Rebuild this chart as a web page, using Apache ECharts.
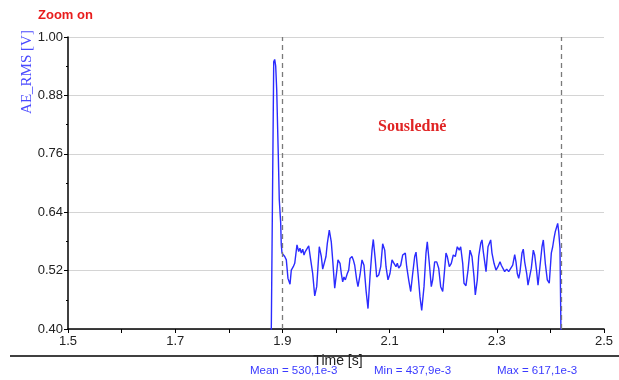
<!DOCTYPE html>
<html>
<head>
<meta charset="utf-8">
<script src="https://cdn.jsdelivr.net/npm/echarts@6/dist/echarts.min.js"></script>
<style>
  html, body { margin: 0; padding: 0; background: #fff; }
  #chart { width: 619px; height: 380px; }
</style>
</head>
<body>
<div id="chart"></div>
<script>
// AE_RMS trace over time [s]
const timeS = [
  1.8785, 1.8838, 1.8856, 1.8875, 1.8894, 1.8924, 1.8942, 1.8968, 1.8979,
  1.8993, 1.9043, 1.9073, 1.9104, 1.9142, 1.9166, 1.9203, 1.9230, 1.9272, 1.9304,
  1.9328, 1.9353, 1.9379, 1.9403, 1.9427, 1.9459, 1.9491, 1.9528, 1.9565, 1.9603,
  1.9640, 1.9688, 1.9726, 1.9752, 1.9776, 1.9813, 1.9838, 1.9875, 1.9912, 1.9938,
  1.9976, 2.0013, 2.0037, 2.0075, 2.0099, 2.0125, 2.0149, 2.0174, 2.0211, 2.0237,
  2.0261, 2.0299, 2.0323, 2.0349, 2.0386, 2.0410, 2.0448, 2.0485, 2.0522, 2.0560,
  2.0597, 2.0634, 2.0672, 2.0696, 2.0733, 2.0759, 2.0797, 2.0834, 2.0871, 2.0909,
  2.0933, 2.0970, 2.1007, 2.1045, 2.1082, 2.1119, 2.1144, 2.1170, 2.1207, 2.1244,
  2.1269, 2.1293, 2.1319, 2.1356, 2.1394, 2.1431, 2.1468, 2.1493, 2.1530, 2.1567,
  2.1599, 2.1642, 2.1679, 2.1703, 2.1741, 2.1778, 2.1804, 2.1841, 2.1879, 2.1916,
  2.1953, 2.1991, 2.2015, 2.2052, 2.2076, 2.2114, 2.2151, 2.2188, 2.2226, 2.2263,
  2.2300, 2.2326, 2.2364, 2.2388, 2.2425, 2.2463, 2.2500, 2.2537, 2.2575, 2.2599,
  2.2636, 2.2662, 2.2700, 2.2724, 2.2748, 2.2774, 2.2799, 2.2836, 2.2860, 2.2886,
  2.2910, 2.2948, 2.2985, 2.3022, 2.3060, 2.3084, 2.3110, 2.3147, 2.3185, 2.3222,
  2.3259, 2.3297, 2.3334, 2.3358, 2.3382, 2.3409, 2.3433, 2.3470, 2.3494, 2.3520,
  2.3558, 2.3582, 2.3619, 2.3644, 2.3681, 2.3707, 2.3744, 2.3769, 2.3806, 2.3843,
  2.3868, 2.3905, 2.3942, 2.3979, 2.4017, 2.4043, 2.4067, 2.4091, 2.4118, 2.4136,
  2.4155, 2.4179, 2.4207
];
const aeRms = [
  0.300, 0.949, 0.954, 0.940, 0.891, 0.754, 0.665, 0.618, 0.573,
  0.556, 0.549, 0.542, 0.504, 0.492, 0.521, 0.528, 0.535, 0.573, 0.559,
  0.566, 0.556, 0.564, 0.552, 0.559, 0.556, 0.571, 0.542, 0.514, 0.468,
  0.487, 0.569, 0.549, 0.523, 0.521, 0.549, 0.576, 0.603, 0.579, 0.542,
  0.484, 0.518, 0.542, 0.535, 0.514, 0.497, 0.507, 0.501, 0.514, 0.521,
  0.545, 0.549, 0.542, 0.531, 0.501, 0.487, 0.511, 0.542, 0.531, 0.480,
  0.442, 0.507, 0.562, 0.584, 0.542, 0.507, 0.511, 0.528, 0.575, 0.562,
  0.528, 0.501, 0.514, 0.542, 0.535, 0.528, 0.535, 0.525, 0.531, 0.552,
  0.549, 0.556, 0.528, 0.501, 0.477, 0.514, 0.549, 0.558, 0.514, 0.466,
  0.438, 0.487, 0.556, 0.579, 0.535, 0.487, 0.501, 0.538, 0.538, 0.525,
  0.487, 0.477, 0.507, 0.556, 0.549, 0.528, 0.535, 0.552, 0.549, 0.569,
  0.562, 0.569, 0.535, 0.494, 0.489, 0.521, 0.562, 0.549, 0.507, 0.470,
  0.501, 0.549, 0.576, 0.583, 0.559, 0.556, 0.518, 0.569, 0.573, 0.583,
  0.556, 0.535, 0.521, 0.528, 0.538, 0.531, 0.528, 0.518, 0.523, 0.518,
  0.521, 0.531, 0.553, 0.538, 0.514, 0.504, 0.518, 0.556, 0.564, 0.538,
  0.514, 0.490, 0.494, 0.525, 0.562, 0.552, 0.518, 0.490, 0.494, 0.569,
  0.583, 0.535, 0.501, 0.494, 0.556, 0.569, 0.586, 0.600, 0.610, 0.617,
  0.600, 0.566, 0.300
];

// Cursor positions bounding the evaluated section
const cursorTimes = [1.9, 2.4155];

const xTickLabels = ['1.5', '1.7', '1.9', '2.1', '2.3', '2.5'];
const statTexts = ['Mean = 530,1e-3', 'Min = 437,9e-3', 'Max = 617,1e-3'];

const SANS = '"Liberation Sans", Arial, sans-serif';
const SERIF = '"Liberation Serif", "Times New Roman", serif';

const chart = echarts.init(document.getElementById('chart'), null, { renderer: 'canvas' });

const seriesData = timeS.map((t, i) => [t, aeRms[i]]);

chart.setOption({
  animation: false,
  backgroundColor: '#ffffff',
  grid: { left: 68, right: 15, top: 37, bottom: 51, containLabel: false },
  xAxis: {
    type: 'value',
    min: 1.5,
    max: 2.5,
    interval: 0.1,
    axisLine: { show: true, onZero: false, lineStyle: { color: '#000', width: 1.5 } },
    axisTick: { show: true, inside: false, length: 4, lineStyle: { color: '#000', width: 1 } },
    splitLine: { show: false },
    axisLabel: {
      color: '#222',
      fontFamily: SANS,
      fontSize: 13,
      margin: 6,
      formatter: function (v) {
        const s = v.toFixed(1);
        return xTickLabels.indexOf(s) >= 0 ? s : '';
      }
    }
  },
  yAxis: {
    type: 'value',
    min: 0.4,
    max: 1.0,
    interval: 0.12,
    axisLine: { show: true, onZero: false, lineStyle: { color: '#000', width: 1.5 } },
    axisTick: { show: true, inside: false, length: 4, lineStyle: { color: '#000', width: 1 } },
    minorTick: { show: true, splitNumber: 2, length: 2, lineStyle: { color: '#000', width: 1 } },
    splitLine: { show: true, lineStyle: { color: '#d4d4d4', width: 1 } },
    axisLabel: {
      color: '#222',
      fontFamily: SANS,
      fontSize: 13,
      margin: 5,
      formatter: function (v) { return v.toFixed(2); }
    }
  },
  series: [{
    type: 'line',
    data: seriesData,
    showSymbol: false,
    symbol: 'none',
    clip: true,
    lineStyle: { color: '#2b2bff', width: 1.4 },
    markLine: {
      silent: true,
      symbol: ['none', 'none'],
      label: { show: false },
      lineStyle: { color: '#7a7a7a', type: [5, 4], width: 1.3 },
      data: cursorTimes.map(t => ({ xAxis: t }))
    }
  }],
  graphic: [
    {
      type: 'text', left: 38, top: 9,
      style: { text: 'Zoom on', fill: '#e81c1c', font: 'bold 13px ' + SANS }
    },
    {
      type: 'text', left: 378, top: 119,
      style: { text: 'Sousledné', fill: '#e02424', font: 'bold 16px ' + SERIF }
    },
    {
      type: 'text', x: 27, y: 72, rotation: Math.PI / 2,
      style: { text: 'AE_RMS [V]', fill: '#4a4aff', font: '15px ' + SERIF, align: 'center', verticalAlign: 'middle' }
    },
    {
      type: 'line',
      shape: { x1: 10, y1: 356, x2: 619, y2: 356 },
      style: { stroke: '#000', lineWidth: 1.5 }
    },
    {
      type: 'text', x: 338, y: 361,
      style: { text: 'Time [s]', fill: '#222', font: '14px ' + SANS, align: 'center', verticalAlign: 'middle' }
    },
    {
      type: 'text', x: 250, y: 371,
      style: { text: statTexts[0], fill: '#3a3aff', font: '11.5px ' + SANS, verticalAlign: 'middle' }
    },
    {
      type: 'text', x: 374, y: 371,
      style: { text: statTexts[1], fill: '#3a3aff', font: '11.5px ' + SANS, verticalAlign: 'middle' }
    },
    {
      type: 'text', x: 497, y: 371,
      style: { text: statTexts[2], fill: '#3a3aff', font: '11.5px ' + SANS, verticalAlign: 'middle' }
    }
  ]
});
</script>
</body>
</html>
